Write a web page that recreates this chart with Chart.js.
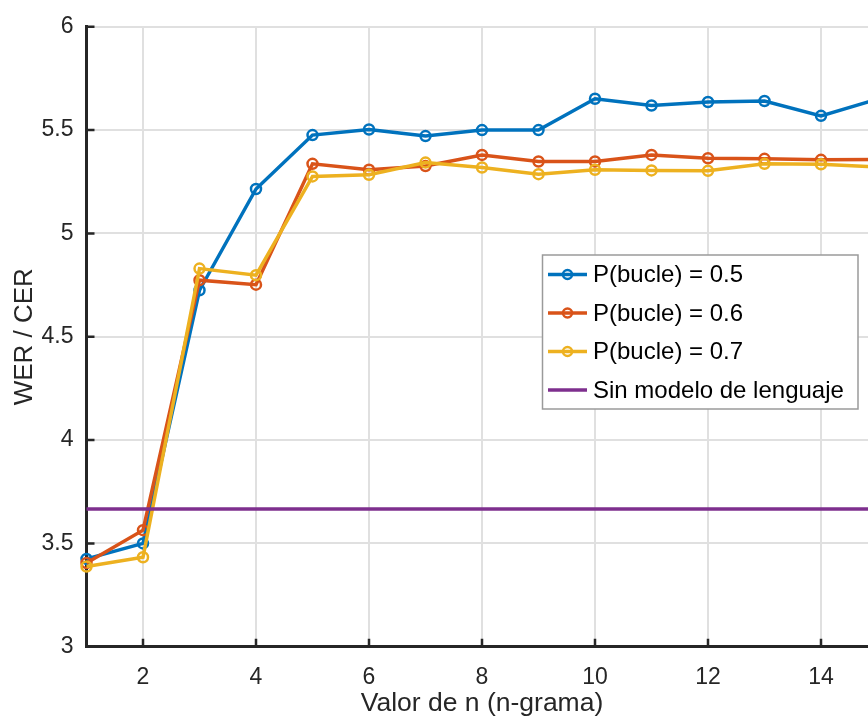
<!DOCTYPE html>
<html>
<head>
<meta charset="utf-8">
<script src="https://cdn.jsdelivr.net/npm/chart.js@4.4.1/dist/chart.umd.min.js"></script>
<style>
  html, body { margin: 0; padding: 0; overflow: hidden; background: #ffffff; }
  #wrap { position: absolute; left: 0; top: 0; width: 900px; height: 717px; }
</style>
</head>
<body>
<div id="wrap"><canvas id="c" width="900" height="717"></canvas></div>
<script>
// ---- data ----
const nValues = [1, 2, 3, 4, 5, 6, 7, 8, 9, 10, 11, 12, 13, 14, 15];
const pBucle05 = [3.425, 3.500, 4.725, 5.215, 5.476, 5.503, 5.471, 5.500, 5.500, 5.652, 5.619, 5.636, 5.641, 5.569, 5.650];
const pBucle06 = [3.405, 3.564, 4.774, 4.752, 5.337, 5.308, 5.326, 5.380, 5.348, 5.348, 5.380, 5.364, 5.361, 5.356, 5.358];
const pBucle07 = [3.388, 3.433, 4.830, 4.798, 5.276, 5.284, 5.343, 5.319, 5.287, 5.308, 5.305, 5.303, 5.337, 5.335, 5.322];
const sinModelo = 3.666;
const seriesNames = ['P(bucle) = 0.5', 'P(bucle) = 0.6', 'P(bucle) = 0.7', 'Sin modelo de lenguaje'];
const xTickValues = [2, 4, 6, 8, 10, 12, 14];
const yTickValues = [3, 3.5, 4, 4.5, 5, 5.5, 6];
const xTitle = 'Valor de n (n-grama)';
const yTitle = 'WER / CER';

const colors = ['#0072BD', '#D95319', '#EDB120', '#7E2F8E'];
const axisColor = '#262626';
const FONT = "'Liberation Sans', Arial, Helvetica, sans-serif";
Chart.defaults.font.family = FONT;
Chart.defaults.color = axisColor;

const toXY = arr => arr.map((y, i) => ({ x: nValues[i], y }));

function seriesDs(i, arr, order) {
  return {
    label: seriesNames[i],
    data: toXY(arr),
    borderColor: colors[i],
    backgroundColor: 'transparent',
    borderWidth: 3.5,
    tension: 0,
    pointStyle: 'circle',
    pointRadius: 5,
    pointBorderWidth: 2.5,
    pointBorderColor: colors[i],
    pointBackgroundColor: 'rgba(0,0,0,0)',
    clip: false,
    order: order,
    _marker: true
  };
}

const datasets = [
  seriesDs(0, pBucle05, 3),
  seriesDs(1, pBucle06, 2),
  seriesDs(2, pBucle07, 1),
  {
    label: seriesNames[3],
    data: [{ x: nValues[0], y: sinModelo }, { x: nValues[nValues.length - 1], y: sinModelo }],
    borderColor: colors[3],
    backgroundColor: 'transparent',
    borderWidth: 3.5,
    pointRadius: 0,
    clip: false,
    order: 0,
    _marker: false
  }
];

// inward tick marks (MATLAB style)
const innerTicks = {
  id: 'innerTicks',
  beforeDatasetsDraw(chart) {
    const { ctx, chartArea: a, scales: { x, y } } = chart;
    ctx.save();
    ctx.strokeStyle = axisColor;
    ctx.lineWidth = 2.5;
    ctx.beginPath();
    yTickValues.forEach(v => {
      const py = y.getPixelForValue(v);
      ctx.moveTo(a.left, py);
      ctx.lineTo(a.left + 8, py);
    });
    xTickValues.forEach(v => {
      const px = x.getPixelForValue(v);
      ctx.moveTo(px, a.bottom);
      ctx.lineTo(px, a.bottom - 8);
    });
    ctx.stroke();
    ctx.restore();
  }
};

// boxed legend inside plot
const boxLegend = {
  id: 'boxLegend',
  afterDatasetsDraw(chart) {
    const { ctx } = chart;
    const bx = 542.5, by = 255, bw = 315.5, bh = 154;
    ctx.save();
    ctx.fillStyle = '#ffffff';
    ctx.fillRect(bx, by, bw, bh);
    ctx.strokeStyle = '#9a9a9a';
    ctx.lineWidth = 1.5;
    ctx.strokeRect(bx, by, bw, bh);
    const rowH = 38.5, firstY = 274.5;
    ctx.font = '24px ' + FONT;
    ctx.textBaseline = 'middle';
    ctx.textAlign = 'left';
    chart.data.datasets.forEach((ds, i) => {
      const cy = firstY + i * rowH;
      ctx.strokeStyle = ds.borderColor;
      ctx.lineWidth = 3.5;
      ctx.beginPath();
      ctx.moveTo(548, cy);
      ctx.lineTo(587, cy);
      ctx.stroke();
      if (ds._marker) {
        ctx.lineWidth = 2.5;
        ctx.beginPath();
        ctx.arc(567.5, cy, 4.5, 0, Math.PI * 2);
        ctx.stroke();
      }
      ctx.fillStyle = '#000000';
      ctx.fillText(ds.label, 593, cy + 1);
    });
    ctx.restore();
  }
};

new Chart(document.getElementById('c'), {
  type: 'line',
  data: { datasets },
  options: {
    responsive: false,
    devicePixelRatio: 1,
    animation: false,
    layout: { padding: { top: 22.7, right: 22.5, left: 0, bottom: 0 } },
    plugins: { legend: { display: false }, tooltip: { enabled: false } },
    scales: {
      x: {
        type: 'linear',
        min: 1,
        max: 15,
        afterFit: s => { s.height = 70.3; },
        afterBuildTicks: s => { s.ticks = xTickValues.map(v => ({ value: v })); },
        grid: { color: '#e0e0e0', lineWidth: 2, drawTicks: false, tickLength: 0 },
        border: { display: true, color: axisColor, width: 3 },
        ticks: { font: { size: 23 }, color: axisColor, padding: 17, maxRotation: 0 },
        title: { display: true, text: xTitle, font: { size: 26.5, lineHeight: 1 }, color: axisColor, padding: { top: 0, bottom: 0 } }
      },
      y: {
        type: 'linear',
        min: 3,
        max: 6,
        afterFit: s => { s.width = 86.5; },
        afterBuildTicks: s => { s.ticks = yTickValues.map(v => ({ value: v })); },
        grid: { color: '#e0e0e0', lineWidth: 2, drawTicks: false, tickLength: 0 },
        border: { display: true, color: axisColor, width: 3 },
        ticks: { font: { size: 23 }, color: axisColor, padding: 13, callback: v => String(v) },
        title: { display: true, text: yTitle, font: { size: 26, lineHeight: 1 }, color: axisColor, padding: { top: 11.75, bottom: 0 } }
      }
    }
  },
  plugins: [innerTicks, boxLegend]
});
</script>
</body>
</html>
